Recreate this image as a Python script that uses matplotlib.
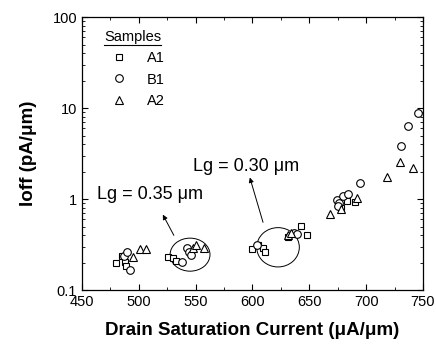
import matplotlib
matplotlib.use("Agg")
import matplotlib.pyplot as plt
from matplotlib.patches import Ellipse
from matplotlib.lines import Line2D
from matplotlib.ticker import MultipleLocator, LogLocator, FuncFormatter, NullFormatter

plt.rcParams['font.family'] = ['Liberation Sans', 'DejaVu Sans']

# data
a1_x = [480, 485, 488, 489, 526, 530, 533, 600, 605, 609, 611, 631, 643, 648, 678, 683, 690]
a1_y = [0.20, 0.24, 0.205, 0.185, 0.232, 0.225, 0.21, 0.28, 0.31, 0.29, 0.26,
        0.38, 0.51, 0.40, 0.80, 0.95, 0.92]

b1_x = [487, 490, 492, 538, 542, 544, 546, 604, 637, 639,
        674, 676, 675, 680, 684, 695, 731, 737, 746]
b1_y = [0.235, 0.26, 0.167, 0.205, 0.29, 0.26, 0.245, 0.31, 0.43, 0.41,
        0.97, 0.90, 0.84, 1.08, 1.14, 1.5, 3.8, 6.4, 8.8]

a2_x = [495, 501, 506, 548, 550, 557, 631, 634, 668, 678, 692, 718, 730, 741]
a2_y = [0.23, 0.28, 0.28, 0.29, 0.31, 0.29, 0.40, 0.43, 0.69, 0.78, 1.04, 1.73, 2.55, 2.2]

fig = plt.figure(figsize=(4.36, 3.5), dpi=100)
ax = fig.add_axes([0.188, 0.171, 0.782, 0.780])

ms = 5
ax.plot(a1_x, a1_y, 's', mfc='white', mec='black', mew=0.8, ms=ms, label='A1')
ax.plot(b1_x, b1_y, 'o', mfc='white', mec='black', mew=0.8, ms=ms + 0.5, label='B1')
ax.plot(a2_x, a2_y, '^', mfc='white', mec='black', mew=0.8, ms=ms + 0.5, label='A2')

ax.set_xlim(450, 750)
ax.set_yscale('log')
ax.set_ylim(0.1, 100)

ax.xaxis.set_major_locator(MultipleLocator(50))
ax.xaxis.set_minor_locator(MultipleLocator(25))
ax.yaxis.set_major_locator(LogLocator(base=10))
ax.yaxis.set_minor_locator(LogLocator(base=10, subs=range(2, 10)))
ax.yaxis.set_major_formatter(FuncFormatter(lambda v, p: '%g' % v))
ax.yaxis.set_minor_formatter(NullFormatter())
ax.tick_params(which='both', direction='in', top=True, right=True, labelsize=10.5)
ax.tick_params(which='major', length=4)
ax.tick_params(which='minor', length=2)
for s in ax.spines.values():
    s.set_linewidth(0.9)

ax.set_xlabel('Drain Saturation Current (μA/μm)', fontsize=13.5, fontweight='bold', labelpad=9)
ax.set_ylabel('Ioff (pA/μm)', fontsize=13.5, fontweight='bold', labelpad=11)

# ellipses around the clusters (axes fraction)
ax.add_patch(Ellipse((0.317, 0.130), 0.117, 0.121, transform=ax.transAxes,
                     fill=False, lw=0.7, ec='black'))
ax.add_patch(Ellipse((0.575, 0.157), 0.125, 0.144, transform=ax.transAxes,
                     fill=False, lw=0.7, ec='black'))

ax.annotate('', xy=(520, 0.72), xytext=(532, 0.376),
            arrowprops=dict(arrowstyle='-|>', lw=0.7, color='black', mutation_scale=7))
ax.annotate('', xy=(597, 1.85), xytext=(610, 0.52),
            arrowprops=dict(arrowstyle='-|>', lw=0.7, color='black', mutation_scale=7))
ax.text(463, 1.12, 'Lg = 0.35 μm', fontsize=13, va='center', ha='left')
ax.text(548, 2.3, 'Lg = 0.30 μm', fontsize=13, va='center', ha='left')

leg = ax.legend(loc='upper left', frameon=False, title='Samples', fontsize=10.5,
                title_fontsize=10.5, alignment='left', handletextpad=0.9,
                labelspacing=0.5, bbox_to_anchor=(0.04, 0.985), borderaxespad=0.2)

# underline the legend title
fig.canvas.draw()
bb = leg.get_title().get_window_extent().transformed(fig.transFigure.inverted())
fig.add_artist(Line2D([bb.x0, bb.x1], [bb.y0 - 0.002, bb.y0 - 0.002],
                      transform=fig.transFigure, color='black', lw=0.8))

fig.savefig('out.png', dpi=100)
